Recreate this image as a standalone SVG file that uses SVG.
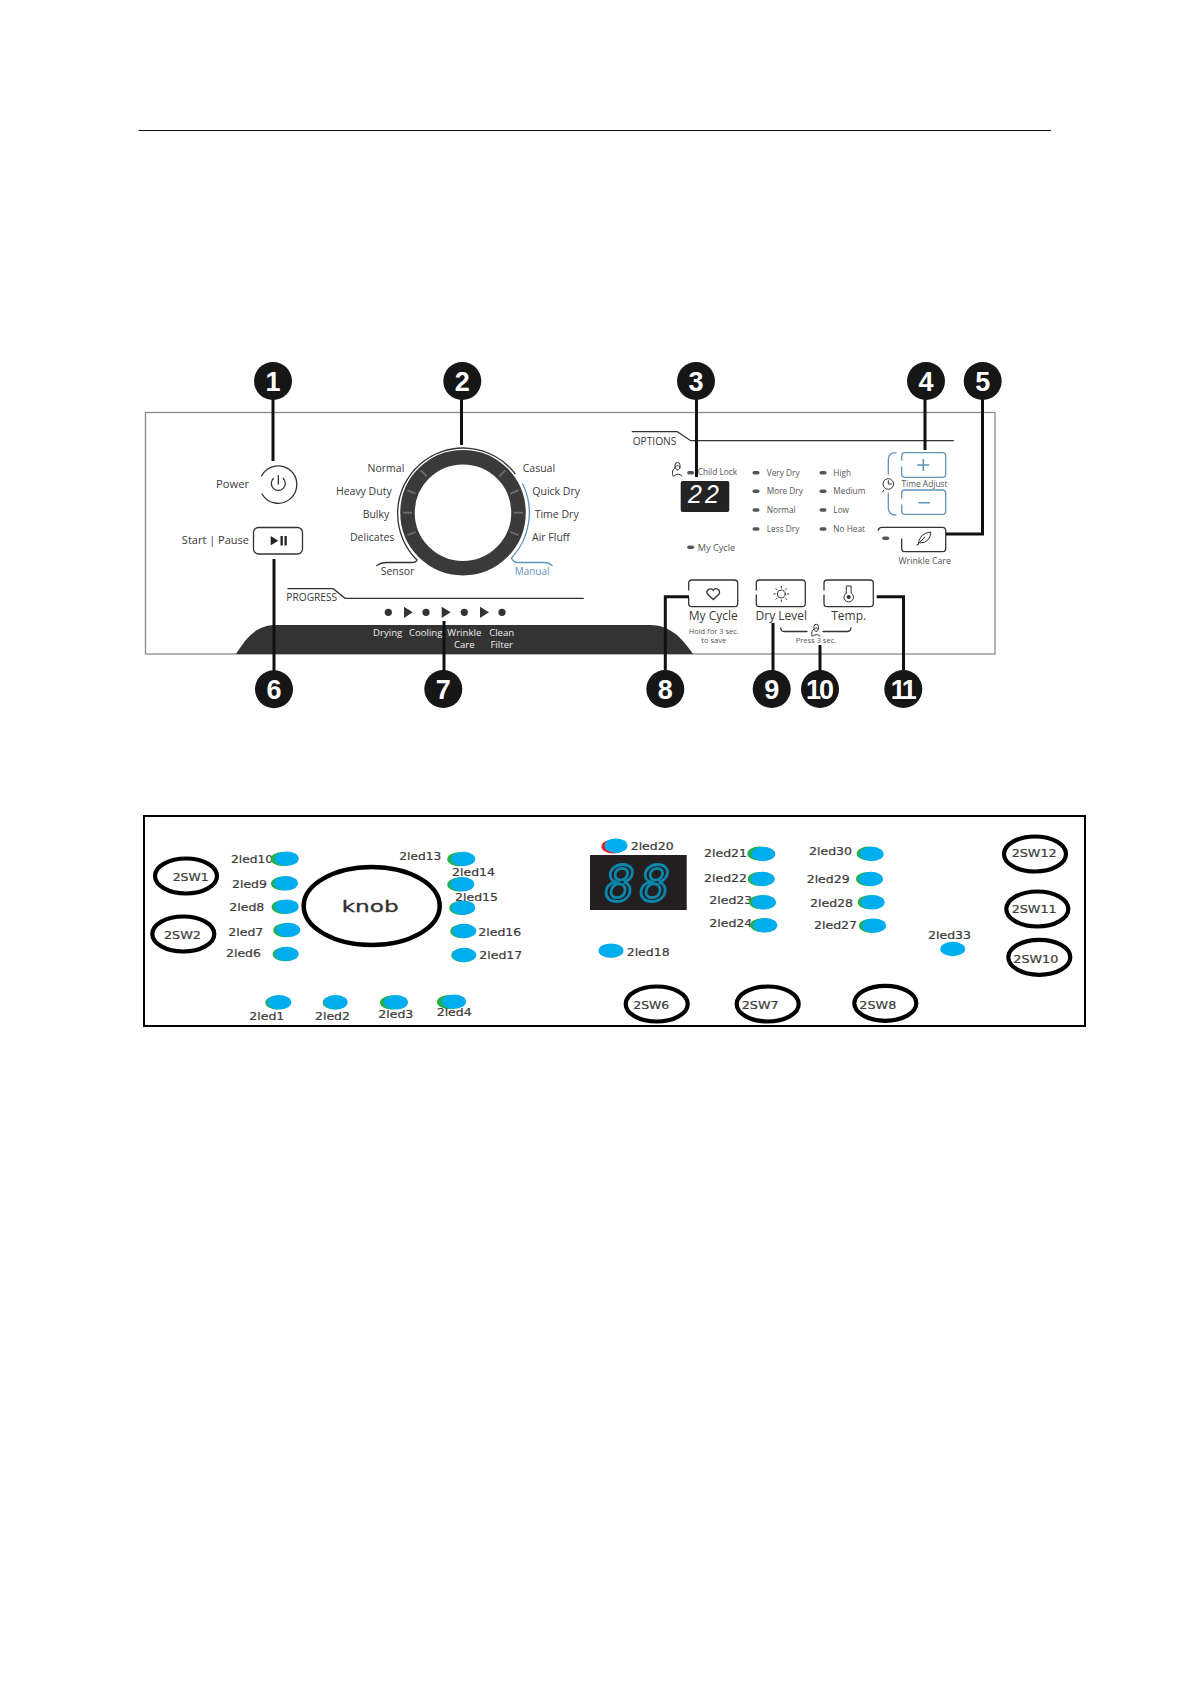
<svg xmlns="http://www.w3.org/2000/svg" width="1191" height="1684" viewBox="0 0 1191 1684">
<style>
text{font-family:"Open Sans","Noto Sans","Liberation Sans",sans-serif;fill:#3a3a3a}
.n{fill:#161616}
.num{font-family:"Liberation Sans",Arial,sans-serif;font-weight:700;font-size:27px;fill:#fff;text-anchor:middle}
.con{fill:none;stroke:#111;stroke-width:3}
.thin{fill:none;stroke:#333;stroke-width:1.3;stroke-linecap:round}
.bl{fill:none;stroke:#5f93b8;stroke-width:1.3;stroke-linecap:round}
.d{font-size:10.5px}
.e{text-anchor:end}
.m{text-anchor:middle}
.opt{font-size:8.3px;fill:#555}
.dash{fill:#555}
.btn{font-size:12px}
.tiny{font-size:7.5px;fill:#555;text-anchor:middle}
.wh{font-size:9.6px;fill:#eee;text-anchor:middle}
.tick{stroke:#6a6a6a;stroke-width:2}
.gr{fill:#22b14c}
.b{fill:#00aeef}
.lbl{font-family:"DejaVu Sans",sans-serif;font-size:10.5px;fill:#3c3c3c;stroke:#3c3c3c;stroke-width:.2}
.sw{fill:none;stroke:#000;stroke-width:4.2}
.swt{font-family:"DejaVu Sans",sans-serif;font-size:10.5px;fill:#3c3c3c;stroke:#3c3c3c;stroke-width:.2}
</style>
<line x1="138.5" y1="130.5" x2="1051" y2="130.5" stroke="#111" stroke-width="1"/>
<g id="panel-top">
<rect x="145.5" y="412.5" width="849.5" height="241.5" fill="#fff" stroke="#8a8a8a" stroke-width="1.3"/>
<path d="M236 654 C246 638 256 625 276 625 H650 C670 625 682 638 693 654 Z" fill="#333"/>
<text class="wh" x="387.7" y="636">Drying</text>
<text class="wh" x="425.7" y="636">Cooling</text>
<text class="wh" x="464.3" y="636">Wrinkle</text>
<text class="wh" x="464.3" y="648">Care</text>
<text class="wh" x="501.7" y="636">Clean</text>
<text class="wh" x="501.7" y="648">Filter</text>
</g>
<g id="power">
<text class="d" x="249" y="488" text-anchor="end" style="font-size:11.2px">Power</text>
<path class="thin" d="M261.5 476 A18.7 18.7 0 1 1 262 494"/>
<path class="thin" d="M273.3 478.5 A7 7 0 1 0 283.3 478.5 M278.3 475.5 V484"/>
</g>
<g id="start-pause">
<text class="d" x="249" y="544" text-anchor="end" style="font-size:11px">Start | Pause</text>
<rect x="253.5" y="527.5" width="49" height="26.5" rx="5" fill="#fff" stroke="#333" stroke-width="1.3"/>
<path d="M270.7 536 L278.3 540.7 L270.7 545.3Z" fill="#222"/>
<rect x="280.5" y="536" width="2.3" height="9.5" fill="#222"/>
<rect x="284.5" y="536" width="2.3" height="9.5" fill="#222"/>
</g>
<g id="dial">
<circle cx="463" cy="512.7" r="55.5" fill="#fff" stroke="#3a3a3a" stroke-width="14.5"/>
<g transform="translate(463 512.7)">
<line class="tick" x1="-51" x2="-60" transform="rotate(45)"/>
<line class="tick" x1="-51" x2="-60" transform="rotate(22)"/>
<line class="tick" x1="-51" x2="-60"/>
<line class="tick" x1="-51" x2="-60" transform="rotate(-22)"/>
<line class="tick" x1="51" x2="60" transform="rotate(-45)"/>
<line class="tick" x1="51" x2="60" transform="rotate(-22)"/>
<line class="tick" x1="51" x2="60"/>
<line class="tick" x1="51" x2="60" transform="rotate(22)"/>
</g>
<path class="thin" d="M515 473.5 A65.5 65.5 0 1 0 417 560 Q416 562.5 412 562.5 H386 Q381 562.5 376.7 565.5"/>
<path class="bl" d="M522.7 484 A66 66 0 0 1 511.5 558 Q513 562.5 518 562.5 H545 Q549 562.5 552 565.5"/>
<text class="d e" x="404.3" y="472">Normal</text>
<text class="d e" x="391.7" y="495.3">Heavy Duty</text>
<text class="d e" x="389.3" y="518.3">Bulky</text>
<text class="d e" x="394.3" y="541">Delicates</text>
<text class="d" x="380.7" y="574.7">Sensor</text>
<text class="d" x="522.7" y="472">Casual</text>
<text class="d" x="532.3" y="495.3">Quick Dry</text>
<text class="d" x="534.7" y="518.3">Time Dry</text>
<text class="d" x="532" y="541">Air Fluff</text>
<text class="d" x="514.7" y="574.7" style="fill:#5f93b8;font-size:10px">Manual</text>
</g>
<g id="progress">
<path class="thin" d="M288 588.7 H333.3 L345 598.3 H583.3"/>
<text x="286.3" y="601.3" style="font-size:10.2px">PROGRESS</text>
<g fill="#333">
<circle cx="388.3" cy="612.3" r="3.6"/><circle cx="426" cy="612.3" r="3.6"/><circle cx="464.3" cy="612.3" r="3.6"/><circle cx="502" cy="612.3" r="3.6"/>
<path d="M404 606.7 L412.7 612.3 L404 618Z M441.7 606.7 L450.7 612.3 L441.7 618Z M480 606.7 L489 612.3 L480 618Z"/>
</g>
</g>
<g id="options">
<path class="thin" d="M632.3 431.7 H677.3 L690.7 440.7 H953.3"/>
<text x="632.7" y="445" style="font-size:10.2px">OPTIONS</text>
<path class="thin" style="stroke-width:1" d="M673 476 Q671 470 675 468 V465 A2.5 2.5 0 0 1 680 465 V468 M677.5 470 a2.2 2.2 0 1 1 .1 0 M674 476 Q678 472 682 476"/>
<rect class="dash" x="687.2" y="471" width="7" height="3.6" rx="1.8"/>
<text class="opt" x="697.7" y="475">Child Lock</text>
<rect x="680.7" y="481" width="48.6" height="31" rx="2" fill="#242424"/>
<text x="705" y="503" text-anchor="middle" style="font-family:'Liberation Sans',sans-serif;font-style:italic;font-size:25px;fill:#fff;letter-spacing:3px">22</text>
<rect class="dash" x="752.5" y="471" width="7" height="3.6" rx="1.8"/>
<rect class="dash" x="752.5" y="489.5" width="7" height="3.6" rx="1.8"/>
<rect class="dash" x="752.5" y="508.2" width="7" height="3.6" rx="1.8"/>
<rect class="dash" x="752.5" y="527.2" width="7" height="3.6" rx="1.8"/>
<text class="opt" x="766.7" y="475.7">Very Dry</text>
<text class="opt" x="766.7" y="494.3">More Dry</text>
<text class="opt" x="766.7" y="513">Normal</text>
<text class="opt" x="766.7" y="532">Less Dry</text>
<rect class="dash" x="819.5" y="471" width="7" height="3.6" rx="1.8"/>
<rect class="dash" x="819.5" y="489.5" width="7" height="3.6" rx="1.8"/>
<rect class="dash" x="819.5" y="508.2" width="7" height="3.6" rx="1.8"/>
<rect class="dash" x="819.5" y="527.2" width="7" height="3.6" rx="1.8"/>
<text class="opt" x="833.3" y="475.7">High</text>
<text class="opt" x="833.3" y="494.3">Medium</text>
<text class="opt" x="833.3" y="513">Low</text>
<text class="opt" x="833.3" y="532">No Heat</text>
<rect class="dash" x="687.2" y="545.5" width="7" height="3.6" rx="1.8"/>
<text class="opt" x="697.7" y="550.7" style="font-size:9.2px">My Cycle</text>
</g>
<g id="time-adjust">
<path class="bl" d="M896 452.7 Q888.3 452.7 888.3 460 V474 M888.3 493.3 V507.7 Q888.3 515 896 515"/>
<path class="bl" d="M901.7 460 V456 Q901.7 452.7 905 452.7 H942.5 Q945.7 452.7 945.7 456 V474 Q945.7 477.3 942.5 477.3 H905 Q901.7 477.3 901.7 474 V467"/>
<path class="bl" d="M901.7 498 V493 Q901.7 490 905 490 H942.5 Q945.7 490 945.7 493 V511 Q945.7 514.3 942.5 514.3 H905 Q901.7 514.3 901.7 511 V505"/>
<path d="M923.3 459 V471 M917.3 465 H929.3 M918.5 502.7 H930" fill="none" stroke="#5f93b8" stroke-width="1.6"/>
<circle class="thin" cx="888.3" cy="484" r="5.3" style="stroke-width:1"/>
<path class="thin" d="M888.3 480.5 V484 H891.5 M884 490 L882.5 492" style="stroke-width:1"/>
<text class="opt" x="901.5" y="486.7" style="font-size:8.4px">Time Adjust</text>
</g>
<g id="wrinkle-care">
<path class="thin" d="M878.3 530 Q879 527.3 882 527.3 H942.5 Q945.7 527.3 945.7 530.5 V548.5 Q945.7 551.7 942.5 551.7 H905 Q901.7 551.7 901.7 548.5 V539"/>
<rect class="dash" x="882.2" y="536.5" width="7" height="3.6" rx="1.8"/>
<path class="thin" style="stroke-width:1" d="M918 545 Q919 533 931 532 Q930 543 920 543 M917 545 L925 537"/>
<text class="opt" x="898.5" y="564" style="font-size:8.8px">Wrinkle Care</text>
</g>
<g id="my-cycle">
<path class="thin" d="M688.7 590 V583 Q688.7 580 692 580 H734.5 Q737.7 580 737.7 583 V603.5 Q737.7 606.7 734.5 606.7 H692 Q688.7 606.7 688.7 603.5 V598"/>
<path class="thin" d="M713.3 599.5 L707.5 594 A3.3 3.3 0 0 1 713.3 590.5 A3.3 3.3 0 0 1 719.1 594 Z"/>
<text class="btn m" x="713.3" y="620">My Cycle</text>
<text class="tiny" x="713.7" y="634">Hold for 3 sec.</text>
<text class="tiny" x="713.7" y="642.5">to save</text>
</g>
<g id="dry-level">
<path class="thin" d="M756.3 590 V583 Q756.3 580 759.5 580 H802 Q805.3 580 805.3 583 V603.5 Q805.3 606.7 802 606.7 H759.5 Q756.3 606.7 756.3 603.5 V595"/>
<circle class="thin" cx="781.3" cy="594" r="4" style="stroke-width:1"/>
<path class="thin" style="stroke-width:1" d="M781.3 586.5 V588 M781.3 600 V601.5 M773.8 594 H775.3 M787.3 594 H788.8 M776 588.7 L777 589.7 M785.6 598.3 L786.6 599.3 M776 599.3 L777 598.3 M785.6 589.7 L786.6 588.7"/>
<text class="btn m" x="781.3" y="620">Dry Level</text>
</g>
<g id="temp">
<path class="thin" d="M824 590 V583 Q824 580 827.2 580 H870 Q873.3 580 873.3 583 V603.5 Q873.3 606.7 870 606.7 H827.2 Q824 606.7 824 603.5 V595"/>
<path class="thin" style="stroke-width:1" d="M846.3 593 V586 H851.1 V593 A4.8 4.8 0 1 1 846.3 593 Z"/>
<circle cx="848.7" cy="597" r="2" fill="#333"/>
<text class="btn m" x="848.7" y="620">Temp.</text>
</g>
<g id="press-3-sec">
<path class="thin" d="M780.7 628 Q781 631.5 784 631.5 H807 M823 631.5 H848 Q850.5 631.5 851 628"/>
<path class="thin" style="stroke-width:1" d="M812 636 Q811 631 814 629 V626.5 A2.2 2.2 0 0 1 818.4 626.5 V629 M816.3 631.5 a1.8 1.8 0 1 1 .1 0 M813 636 Q816.5 633 820 636"/>
<text class="tiny" x="816" y="643.3">Press 3 sec.</text>
</g>
<g id="connectors">
<path class="con" d="M273 381 V461"/>
<path class="con" d="M461.5 381 V445"/>
<path class="con" d="M696.5 381 V477"/>
<path class="con" d="M925 381 V450"/>
<path class="con" d="M982.5 381 V534 H946"/>
<path class="con" d="M274 689 V559"/>
<path class="con" d="M444 689 V621"/>
<path class="con" d="M665.3 689 V596.7 H689"/>
<path class="con" d="M773 689 V623"/>
<path class="con" d="M820 689 V645"/>
<path class="con" d="M903.5 689 V596.7 H876.7"/>
</g>
<g id="n1"><circle class="n" cx="273" cy="381" r="19"/><text class="num" x="273" y="390.5">1</text></g>
<g id="n2"><circle class="n" cx="462.3" cy="381" r="19"/><text class="num" x="462.3" y="390.5">2</text></g>
<g id="n3"><circle class="n" cx="696" cy="381" r="19"/><text class="num" x="696" y="390.5">3</text></g>
<g id="n4"><circle class="n" cx="926" cy="381" r="19"/><text class="num" x="926" y="390.5">4</text></g>
<g id="n5"><circle class="n" cx="982.7" cy="381" r="19"/><text class="num" x="982.7" y="390.5">5</text></g>
<g id="n6"><circle class="n" cx="274" cy="689.3" r="19"/><text class="num" x="274" y="699">6</text></g>
<g id="n7"><circle class="n" cx="443.3" cy="689" r="19"/><text class="num" x="443.3" y="698.7">7</text></g>
<g id="n8"><circle class="n" cx="665.3" cy="689" r="19"/><text class="num" x="665.3" y="698.7">8</text></g>
<g id="n9"><circle class="n" cx="771.7" cy="689" r="19"/><text class="num" x="771.7" y="698.7">9</text></g>
<g id="n10"><circle class="n" cx="820" cy="689" r="19"/><text class="num" x="819" y="698.7" style="letter-spacing:-2px">10</text></g>
<g id="n11"><circle class="n" cx="903.3" cy="689" r="19"/><text class="num" x="902.5" y="698.7" style="letter-spacing:-2.5px">11</text></g>

<g id="panel-bottom"><rect x="144" y="816" width="941" height="210" fill="#fff" stroke="#000" stroke-width="2"/></g>
<g id="knob"><ellipse class="sw" style="stroke-width:4.5" cx="371.7" cy="906" rx="68" ry="39"/><text x="341.7" y="912.3" textLength="57" lengthAdjust="spacingAndGlyphs" style="font-family:'DejaVu Sans',sans-serif;font-size:16px;fill:#333;stroke:#333;stroke-width:.3">knob</text></g>
<g id="SW1"><ellipse class="sw" cx="186" cy="876" rx="31" ry="17.5"/><text class="swt" x="172.7" y="881.3" textLength="36" lengthAdjust="spacingAndGlyphs">2SW1</text></g>
<g id="SW2"><ellipse class="sw" cx="183.3" cy="934" rx="31" ry="17.5"/><text class="swt" x="164" y="938.7" textLength="37" lengthAdjust="spacingAndGlyphs">2SW2</text></g>
<g id="SW12"><ellipse class="sw" cx="1035" cy="854" rx="31" ry="17.5"/><text class="swt" x="1011.7" y="857.3" textLength="45" lengthAdjust="spacingAndGlyphs">2SW12</text></g>
<g id="SW11"><ellipse class="sw" cx="1037.3" cy="909" rx="31" ry="17.5"/><text class="swt" x="1011.7" y="912.7" textLength="45" lengthAdjust="spacingAndGlyphs">2SW11</text></g>
<g id="SW10"><ellipse class="sw" cx="1039.3" cy="957.3" rx="31" ry="17.5"/><text class="swt" x="1013.3" y="962.7" textLength="45" lengthAdjust="spacingAndGlyphs">2SW10</text></g>
<g id="SW6"><ellipse class="sw" cx="656.7" cy="1004" rx="31" ry="17.5"/><text class="swt" x="633.3" y="1008.7" textLength="36" lengthAdjust="spacingAndGlyphs">2SW6</text></g>
<g id="SW7"><ellipse class="sw" cx="767.7" cy="1004" rx="31" ry="17.5"/><text class="swt" x="741.7" y="1008.7" textLength="37" lengthAdjust="spacingAndGlyphs">2SW7</text></g>
<g id="SW8"><ellipse class="sw" cx="885.3" cy="1003.3" rx="31" ry="17.5"/><text class="swt" x="859.3" y="1008.7" textLength="37" lengthAdjust="spacingAndGlyphs">2SW8</text></g>

<g id="led10"><text class="lbl" x="231" y="863" textLength="42" lengthAdjust="spacingAndGlyphs">2led10</text><ellipse class="gr" cx="282.7" cy="859" rx="12" ry="7"/><ellipse class="b" cx="286.7" cy="858.7" rx="12" ry="7.2"/></g>
<g id="led9"><text class="lbl" x="232" y="888.3" textLength="35" lengthAdjust="spacingAndGlyphs">2led9</text><ellipse class="gr" cx="283" cy="883.6" rx="12" ry="7"/><ellipse class="b" cx="286" cy="883.3" rx="12" ry="7.2"/></g>
<g id="led8"><text class="lbl" x="229.3" y="911.3" textLength="35" lengthAdjust="spacingAndGlyphs">2led8</text><ellipse class="gr" cx="283.7" cy="907" rx="12" ry="7"/><ellipse class="b" cx="286.7" cy="906.7" rx="12" ry="7.2"/></g>
<g id="led7"><text class="lbl" x="228.3" y="935.7" textLength="35" lengthAdjust="spacingAndGlyphs">2led7</text><ellipse class="gr" cx="285.3" cy="930.3" rx="12" ry="7"/><ellipse class="b" cx="288.3" cy="930" rx="12" ry="7.2"/></g>
<g id="led6"><text class="lbl" x="226" y="956.7" textLength="35" lengthAdjust="spacingAndGlyphs">2led6</text><ellipse class="gr" cx="284.7" cy="954.3" rx="12" ry="7"/><ellipse class="b" cx="286.7" cy="954" rx="12" ry="7.2"/></g>
<g id="led13"><text class="lbl" x="399.3" y="860" textLength="42" lengthAdjust="spacingAndGlyphs">2led13</text><ellipse class="gr" cx="459.3" cy="859.3" rx="12" ry="7"/><ellipse class="b" cx="463.3" cy="859" rx="12" ry="7.2"/></g>
<g id="led14"><ellipse class="gr" cx="459.3" cy="884.6" rx="12" ry="7"/><ellipse class="b" cx="462.3" cy="884.3" rx="12" ry="7.2"/><text class="lbl" x="452" y="876" textLength="43" lengthAdjust="spacingAndGlyphs">2led14</text></g>
<g id="led15"><ellipse class="gr" cx="461.3" cy="908" rx="12" ry="7"/><ellipse class="b" cx="463.3" cy="907.7" rx="12" ry="7.2"/><text class="lbl" x="455" y="901.3" textLength="43" lengthAdjust="spacingAndGlyphs">2led15</text></g>
<g id="led16"><ellipse class="gr" cx="462.3" cy="931.3" rx="12" ry="7"/><ellipse class="b" cx="464.3" cy="931" rx="12" ry="7.2"/><text class="lbl" x="478.3" y="936" textLength="43" lengthAdjust="spacingAndGlyphs">2led16</text></g>
<g id="led17"><ellipse class="gr" cx="463.3" cy="955.3" rx="12" ry="7"/><ellipse class="b" cx="464.3" cy="955" rx="12" ry="7.2"/><text class="lbl" x="479.3" y="959.3" textLength="43" lengthAdjust="spacingAndGlyphs">2led17</text></g>
<g id="led1"><ellipse class="gr" cx="277.3" cy="1002.6" rx="12" ry="7"/><ellipse class="b" cx="279.3" cy="1002.3" rx="12" ry="7.2"/><text class="lbl" x="249.3" y="1019.7" textLength="35" lengthAdjust="spacingAndGlyphs">2led1</text></g>
<g id="led2"><ellipse class="gr" cx="334.7" cy="1002.6" rx="12" ry="7"/><ellipse class="b" cx="335.7" cy="1002.3" rx="12" ry="7.2"/><text class="lbl" x="315" y="1019.7" textLength="35" lengthAdjust="spacingAndGlyphs">2led2</text></g>
<g id="led3"><ellipse class="gr" cx="392" cy="1002.6" rx="12" ry="7"/><ellipse class="b" cx="396" cy="1002.3" rx="12" ry="7.2"/><text class="lbl" x="378.3" y="1018" textLength="35" lengthAdjust="spacingAndGlyphs">2led3</text></g>
<g id="led4"><ellipse class="gr" cx="449" cy="1002" rx="12" ry="7"/><ellipse class="b" cx="454" cy="1001.7" rx="12" ry="7.2"/><text class="lbl" x="436.7" y="1016" textLength="35" lengthAdjust="spacingAndGlyphs">2led4</text></g>

<g id="display">
<rect x="590" y="855" width="96.7" height="55" fill="#231f20"/>
<text x="640" y="901" text-anchor="middle" style="font-family:'DejaVu Sans Mono',monospace;font-style:italic;font-size:50px;fill:none;stroke:#0a86ad;stroke-width:2.8;letter-spacing:5px">88</text>
</g>
<g id="led20"><ellipse fill="#ed1c24" cx="613.5" cy="846.5" rx="12" ry="7"/><ellipse class="b" cx="616" cy="845.7" rx="11.5" ry="7.2"/><text class="lbl" x="630.7" y="850" textLength="43" lengthAdjust="spacingAndGlyphs">2led20</text></g>
<g id="led21"><text class="lbl" x="704" y="857.3" textLength="43" lengthAdjust="spacingAndGlyphs">2led21</text><ellipse class="gr" cx="759.3" cy="853.6" rx="12" ry="7"/><ellipse class="b" cx="763.3" cy="854" rx="12" ry="7.2"/></g>
<g id="led22"><text class="lbl" x="704" y="882" textLength="43" lengthAdjust="spacingAndGlyphs">2led22</text><ellipse class="gr" cx="759.7" cy="879" rx="12" ry="7"/><ellipse class="b" cx="762.7" cy="879" rx="12" ry="7.2"/></g>
<g id="led23"><text class="lbl" x="709.3" y="904" textLength="43" lengthAdjust="spacingAndGlyphs">2led23</text><ellipse class="gr" cx="761" cy="902.3" rx="12" ry="7"/><ellipse class="b" cx="764" cy="902.3" rx="12" ry="7.2"/></g>
<g id="led24"><text class="lbl" x="709.3" y="927.3" textLength="43" lengthAdjust="spacingAndGlyphs">2led24</text><ellipse class="gr" cx="762.3" cy="925.3" rx="12" ry="7"/><ellipse class="b" cx="765.3" cy="925.3" rx="12" ry="7.2"/></g>
<g id="led30"><text class="lbl" x="809" y="855.3" textLength="43" lengthAdjust="spacingAndGlyphs">2led30</text><ellipse class="gr" cx="868.7" cy="853.6" rx="12" ry="7"/><ellipse class="b" cx="871.7" cy="854" rx="12" ry="7.2"/></g>
<g id="led29"><text class="lbl" x="806.7" y="883.3" textLength="43" lengthAdjust="spacingAndGlyphs">2led29</text><ellipse class="gr" cx="868" cy="879" rx="12" ry="7"/><ellipse class="b" cx="871" cy="879" rx="12" ry="7.2"/></g>
<g id="led28"><text class="lbl" x="810" y="906.7" textLength="43" lengthAdjust="spacingAndGlyphs">2led28</text><ellipse class="gr" cx="869.7" cy="902.3" rx="12" ry="7"/><ellipse class="b" cx="872.7" cy="902.3" rx="12" ry="7.2"/></g>
<g id="led27"><text class="lbl" x="814" y="929.3" textLength="43" lengthAdjust="spacingAndGlyphs">2led27</text><ellipse class="gr" cx="871" cy="925.7" rx="12" ry="7"/><ellipse class="b" cx="874" cy="925.7" rx="12" ry="7.2"/></g>
<g id="led33"><ellipse class="b" cx="952.7" cy="949" rx="12.5" ry="7.2"/><text class="lbl" x="928" y="938.7" textLength="43" lengthAdjust="spacingAndGlyphs">2led33</text></g>
<g id="led18"><ellipse class="b" cx="611" cy="950.7" rx="12.5" ry="7.2"/><text class="lbl" x="626.7" y="955.7" textLength="43" lengthAdjust="spacingAndGlyphs">2led18</text></g>
</svg>
